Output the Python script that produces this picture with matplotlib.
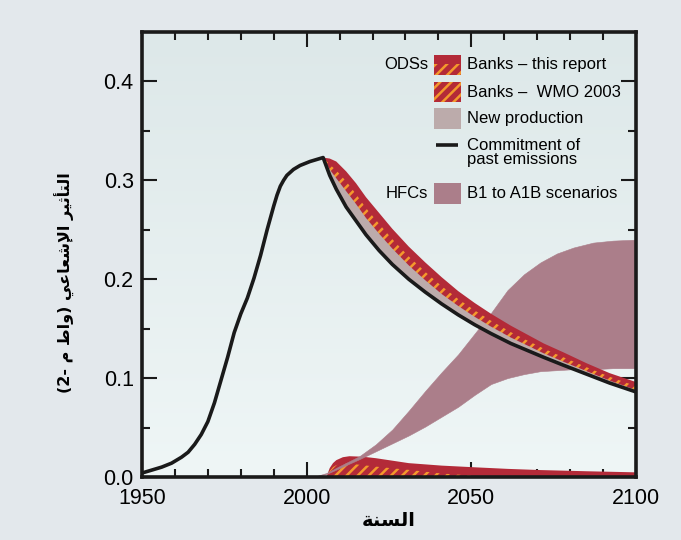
import numpy as np
import matplotlib
matplotlib.use('Agg')
import matplotlib.pyplot as plt
from matplotlib.patches import Rectangle
from matplotlib.colors import LinearSegmentedColormap

# colours
RED = '#b32a38'
ORANGE = '#f4992c'
GREY = '#bcabab'
MAUVE = '#ab7e8a'
FIG_BG = '#e3e8ec'

plt.rcParams['font.family'] = ['Liberation Sans', 'DejaVu Sans']
plt.rcParams['hatch.color'] = ORANGE
plt.rcParams['hatch.linewidth'] = 1.8

# --- data ---
# past emissions (black curve up to 2005)
hist_years = [1950, 1953, 1956, 1959, 1962, 1964, 1966, 1968, 1970, 1972, 1974, 1976,
              1978, 1980, 1982, 1984, 1986, 1988, 1990, 1991, 1992, 1993, 1994, 1996,
              1998, 2001, 2005]
hist_rf = [0.004, 0.007, 0.010, 0.014, 0.020, 0.025, 0.033, 0.043, 0.056, 0.075, 0.098, 0.121,
           0.146, 0.165, 0.181, 0.201, 0.224, 0.250, 0.274, 0.285, 0.294, 0.300, 0.305, 0.311,
           0.315, 0.319, 0.323]

# ODS after 2005: commitment of past emissions + stacked bands
ods_years = [2005, 2007, 2009, 2012, 2015, 2018, 2022, 2026, 2031, 2036, 2041,
             2046, 2051, 2056, 2062, 2067, 2072, 2078, 2085, 2092, 2100]
commit_rf = [0.323, 0.305, 0.291, 0.273, 0.259, 0.245, 0.229, 0.215, 0.200, 0.187, 0.175,
             0.164, 0.154, 0.145, 0.135, 0.128, 0.121, 0.113, 0.104, 0.095, 0.086]
new_prod = [0.0, 0.006, 0.011, 0.016, 0.017, 0.017, 0.017, 0.016, 0.014, 0.012, 0.010,
            0.009, 0.008, 0.007, 0.006, 0.005, 0.004, 0.0035, 0.003, 0.0025, 0.002]
banks_wmo = [0.0, 0.005, 0.008, 0.010, 0.010, 0.010, 0.010, 0.0095, 0.009, 0.0085, 0.008,
             0.007, 0.0065, 0.006, 0.0055, 0.005, 0.0048, 0.0045, 0.004, 0.0038, 0.0038]
banks_report = [0.0, 0.006, 0.009, 0.010, 0.011, 0.011, 0.011, 0.0105, 0.010, 0.0095, 0.009,
                0.008, 0.0075, 0.007, 0.0065, 0.006, 0.0052, 0.005, 0.004, 0.0037, 0.0042]

# banks near the x axis
low_years = [2006, 2007, 2008, 2009, 2011, 2013, 2017, 2021, 2026, 2031, 2041,
             2051, 2061, 2071, 2085, 2100]
low_report = [0.0, 0.009, 0.014, 0.017, 0.020, 0.021, 0.0205, 0.019, 0.0165, 0.014, 0.0115,
              0.0098, 0.0082, 0.007, 0.0058, 0.0047]
low_wmo = [0.0, 0.006, 0.010, 0.012, 0.014, 0.0135, 0.012, 0.0105, 0.0088, 0.0072, 0.0035,
           0.0012, 0.0004, 0.0, 0.0, 0.0]

# HFCs, B1 to A1B scenarios
hfc_years = [2002, 2006, 2010, 2016, 2021, 2026, 2031, 2036, 2041, 2046, 2051,
             2056, 2061, 2066, 2071, 2076, 2081, 2087, 2093, 2100]
hfc_high = [0.0, 0.004, 0.011, 0.021, 0.033, 0.048, 0.067, 0.087, 0.106, 0.124, 0.145,
            0.166, 0.189, 0.205, 0.217, 0.226, 0.232, 0.237, 0.239, 0.240]
hfc_low = [0.0, 0.003, 0.009, 0.018, 0.026, 0.034, 0.042, 0.051, 0.061, 0.071, 0.083,
           0.094, 0.100, 0.104, 0.107, 0.108, 0.109, 0.109, 0.110, 0.110]

# Arabic labels, already shaped in visual order
xlabel = '\uFE94\uFEE8\uFEB4\uFEDF\uFE8D'
ylabel = ('(2- \uFEE1 \uFEC1\uFE8D\uFEED) '
          '\uFEF2\uFECB\uFE8E\uFECC\uFEB7\uFEF9\uFE8D '
          '\uFEAE\uFEF4\uFE9B\uFE84\uFE98\uFEDF\uFE8D')

fig = plt.figure(figsize=(6.81, 5.40), dpi=100, facecolor=FIG_BG)
ax = fig.add_axes([0.2085, 0.1167, 0.7254, 0.8241])

# background gradient of the plot area
bg = LinearSegmentedColormap.from_list('bg', ['#dde8e9', '#eff6f6'])
ax.imshow(np.linspace(0, 1, 256).reshape(-1, 1), cmap=bg, extent=[0, 1, 0, 1],
          transform=ax.transAxes, aspect='auto', zorder=0)

# lower banks
ax.fill_between(low_years, 0, low_report, facecolor=RED, lw=0, zorder=2)
ax.fill_between(low_years, 0, low_wmo, facecolor=RED, edgecolor=ORANGE,
                hatch='///', lw=0, zorder=2.1)

# HFC scenarios
ax.fill_between(hfc_years, hfc_low, hfc_high, facecolor=MAUVE, lw=0.4,
                edgecolor=MAUVE, zorder=3)

# upper ODS bands, stacked on the commitment curve
c = np.array(commit_rf)
top_gray = c + np.array(new_prod)
top_wmo = top_gray + np.array(banks_wmo)
top_rep = top_wmo + np.array(banks_report)
ax.fill_between(ods_years, c, top_rep, facecolor=RED, lw=0, zorder=4)
ax.fill_between(ods_years, c, top_wmo, facecolor=RED, edgecolor=ORANGE,
                hatch='///', lw=0, zorder=4.1)
ax.fill_between(ods_years, c, top_gray, facecolor=GREY, lw=0, zorder=4.2)

# commitment of past emissions
ax.plot(hist_years + ods_years[1:], hist_rf + commit_rf[1:], color='#1a1a1a',
        lw=2.6, zorder=5)

ax.set_xlim(1950, 2100)
ax.set_ylim(0, 0.45)
ax.set_xticks([1950, 2000, 2050, 2100])
ax.set_xticks(np.arange(1950, 2101, 10), minor=True)
ax.set_yticks([0.0, 0.1, 0.2, 0.3, 0.4])
ax.set_yticks(np.arange(0, 0.451, 0.05), minor=True)
ax.set_yticklabels(['0.0', '0.1', '0.2', '0.3', '0.4'])
ax.tick_params(which='both', direction='in', top=True, right=True,
               width=1.5, color='#1a1a1a', labelsize=15.5)
ax.tick_params(which='major', length=11)
ax.tick_params(which='minor', length=6)
ax.tick_params(axis='x', pad=8)
ax.tick_params(axis='y', pad=6)
for s in ax.spines.values():
    s.set_linewidth(2.6)
    s.set_color('#1a1a1a')
    s.set_zorder(6)

fig.text(0.5 * (0.2085 + 0.934), 1 - 520 / 540, xlabel, ha='center', va='center',
         fontsize=14, fontweight='bold', family='DejaVu Sans')
fig.text(65 / 681, 1 - 283 / 540, ylabel, ha='center', va='center', rotation=90,
         fontsize=11.5, fontweight='bold', family='DejaVu Sans')

# legend drawn by hand
px, pw, ph = 0.591, 0.055, 0.046
rows = [0.926, 0.865, 0.806]
tx = 0.658
fs = 12
# banks - this report: solid top, hatched lower part
ax.add_patch(Rectangle((px, rows[0] - ph / 2), pw, ph, transform=ax.transAxes,
                       facecolor=RED, lw=0, zorder=7))
ax.add_patch(Rectangle((px, rows[0] - ph / 2), pw, ph * 0.55, transform=ax.transAxes,
                       facecolor=RED, edgecolor=ORANGE, hatch='///', lw=0, zorder=7.1))
ax.add_patch(Rectangle((px, rows[1] - ph / 2), pw, ph, transform=ax.transAxes,
                       facecolor=RED, edgecolor=ORANGE, hatch='///', lw=0, zorder=7))
ax.add_patch(Rectangle((px, rows[2] - ph / 2), pw, ph, transform=ax.transAxes,
                       facecolor=GREY, lw=0, zorder=7))
ax.plot([0.596, 0.640], [0.746, 0.746], transform=ax.transAxes, color='#1a1a1a',
        lw=2.6, solid_capstyle='butt', zorder=7)
ax.add_patch(Rectangle((px, 0.637 - ph / 2), pw, ph, transform=ax.transAxes,
                       facecolor=MAUVE, lw=0, zorder=7))
labels = ['Banks \u2013 this report', 'Banks \u2013  WMO 2003', 'New production']
for y, t in zip(rows, labels):
    ax.text(tx, y, t, transform=ax.transAxes, fontsize=fs, va='center', zorder=8)
ax.text(tx, 0.729, 'Commitment of\npast emissions', transform=ax.transAxes,
        fontsize=fs, va='center', linespacing=0.95, zorder=8)
ax.text(tx, 0.637, 'B1 to A1B scenarios', transform=ax.transAxes, fontsize=fs,
        va='center', zorder=8)
ax.text(0.579, rows[0], 'ODSs', transform=ax.transAxes, fontsize=fs, va='center',
        ha='right', zorder=8)
ax.text(0.579, 0.637, 'HFCs', transform=ax.transAxes, fontsize=fs, va='center',
        ha='right', zorder=8)

fig.savefig('out.png', dpi=100, facecolor=FIG_BG)
